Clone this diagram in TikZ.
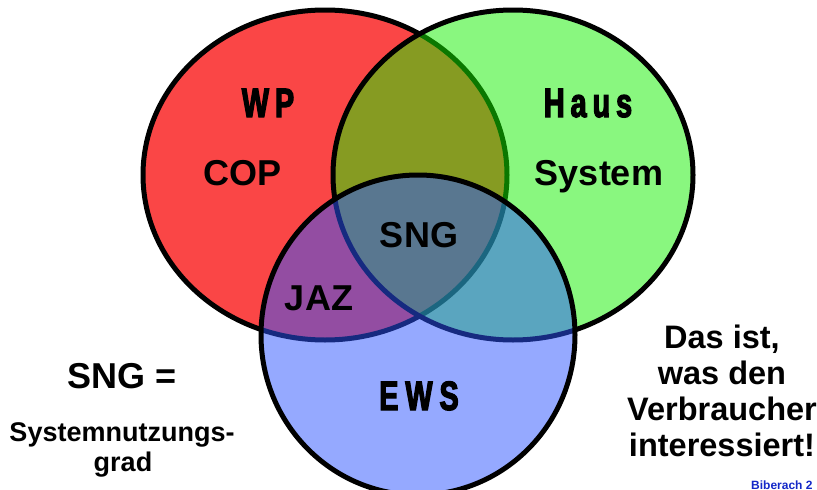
\documentclass[tikz,border=0pt]{standalone}
\usepackage{fontspec}
\setmainfont{Liberation Sans}
\newfontfamily\impactf{Liberation Sans}[FakeStretch=0.7, BoldFeatures={FakeStretch=0.7,FakeBold=3}]
\definecolor{wpred}{RGB}{250,70,70}
\definecolor{hausgreen}{RGB}{20,240,0}
\definecolor{ewsblue}{RGB}{45,85,255}
\definecolor{bibblue}{RGB}{20,40,200}
\tikzset{
  ring/.style={draw=black, line width=5pt},
  lbl/.style={inner sep=0pt, anchor=base, font=\bfseries\fontsize{36}{40}\selectfont},
  imp/.style={inner sep=0pt, anchor=base, font=\impactf\bfseries\fontsize{41}{44}\selectfont},
  side/.style={inner sep=0pt, anchor=base, font=\bfseries\fontsize{32.5}{36}\selectfont},
  small/.style={inner sep=0pt, anchor=base, font=\bfseries\fontsize{27}{30}\selectfont},
}
\begin{document}
\begin{tikzpicture}[x=1pt,y=-1pt]
\useasboundingbox (0,0) rectangle (817,490);
\fill[white] (0,0) rectangle (817,490);
% red circle
\fill[wpred] (325,175) ellipse [x radius=182pt, y radius=165pt];
\draw[ring] (325,175) ellipse [x radius=182pt, y radius=165pt];
% green circle
\fill[hausgreen, fill opacity=0.5] (513,175) ellipse [x radius=180pt, y radius=165pt];
\draw[ring] (513,175) ellipse [x radius=180pt, y radius=165pt];
% blue circle
\fill[ewsblue, fill opacity=0.5] (418,335) ellipse [x radius=157pt, y radius=160pt];
\draw[ring] (418,335) ellipse [x radius=157pt, y radius=160pt];
% labels
\node[imp] (wp) at (268,117) {W\kern6pt P};
\node[imp] (haus) at (588,117) {H\kern6pt a\kern6pt u\kern6pt s};
\node[imp] (ews) at (419,410) {E\kern7pt W\kern7pt S};
\node[lbl] (cop) at (243,185) {COP};
\node[lbl] (sys) at (599,185) {System};
\node[lbl] (sng) at (419,247) {SNG};
\node[lbl] (jaz) at (319,310) {JAZ};
\node[lbl] (sngeq) at (122,388) {SNG =};
\node[small] (snt) at (122,441) {Systemnutzungs-};
\node[small] (grad) at (123,471) {grad};
\node[side] (r1) at (722,348) {Das ist,};
\node[side] (r2) at (722,384) {was den};
\node[side] (r3) at (722,420) {Verbraucher};
\node[side] (r4) at (722,456) {interessiert!};
\node[inner sep=0pt, anchor=base west, text=bibblue, font=\bfseries\fontsize{12}{14}\selectfont] (bib) at (751,489) {Biberach 2};
\end{tikzpicture}
\end{document}
